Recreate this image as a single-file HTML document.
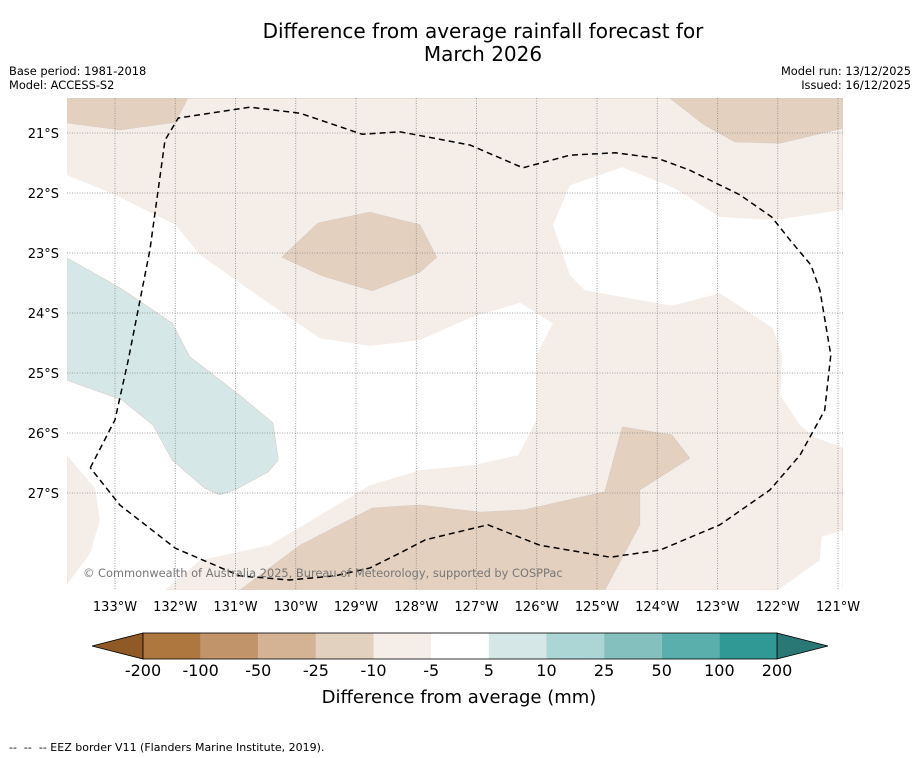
<!DOCTYPE html>
<html><head><meta charset="utf-8"><style>
body{margin:0;background:#fff;font-family:"DejaVu Sans","Liberation Sans",sans-serif;}
svg{display:block}
</style></head><body>
<svg id="chart" width="919" height="758">
<rect width="919" height="758" fill="#fff"/>
<text x="483" y="38" font-size="20" text-anchor="middle">Difference from average rainfall forecast for</text>
<text x="483" y="61" font-size="20" text-anchor="middle">March 2026</text>
<text x="9" y="75" font-size="11.4">Base period: 1981-2018</text>
<text x="9" y="89" font-size="11.4">Model: ACCESS-S2</text>
<text x="911" y="75" font-size="11.4" text-anchor="end">Model run: 13/12/2025</text>
<text x="911" y="89" font-size="11.4" text-anchor="end">Issued: 16/12/2025</text>
<defs><clipPath id="mapclip"><rect x="67" y="98" width="776" height="492"/></clipPath></defs>
<g id="map" clip-path="url(#mapclip)"></g>
<g id="axes"></g>
<g id="cbar"></g>
<text x="459" y="703" font-size="18" text-anchor="middle">Difference from average (mm)</text>
<text x="9" y="751" font-size="11" style="white-space:pre">--  --  -- EEZ border V11 (Flanders Marine Institute, 2019).</text>
</svg>
<script>
const lonTicks=[133,132,131,130,129,128,127,126,125,124,123,122,121];
const latTicks=[21,22,23,24,25,26,27];
const bgLevel=[[133.8,20.42],[120.92,20.42],[120.92,28.62],[133.8,28.62]];
const whiteA=[[133.8,21.7],[133,22.03],[132,22.53],[131.59,23.03],[130.76,23.62],[129.6,24.42],[128.77,24.55],[127.94,24.45],[127.11,24.08],[126.28,23.83],[125.73,24.17],[126,24.7],[126,25.78],[126.31,26.37],[127.02,26.53],[127.94,26.62],[128.77,26.87],[129.6,27.37],[130.43,27.87],[131.59,28.12],[132.17,28.62],[133.8,28.62],[133.8,28.53],[133.41,28],[133.25,27.45],[133.33,26.92],[133.8,26.37]];
const whiteB=[[125.45,21.87],[124.58,21.57],[123.71,21.92],[122.96,22.4],[122.05,22.45],[120.92,22.28],[120.92,26.25],[121.38,26.07],[121.63,25.87],[121.96,25.37],[121.93,24.7],[122.08,24.25],[122.96,23.67],[123.76,23.88],[125.2,23.62],[125.45,23.37],[125.73,22.53]];
const whiteC=[[120.92,27.62],[121.27,27.73],[121.3,28.12],[122,28.62],[120.92,28.62]];
const darkD1=[[133.8,20.42],[131.79,20.42],[132,20.82],[132.92,20.95],[133.8,20.83]];
const darkD2=[[130.23,23.07],[129.63,22.5],[128.77,22.32],[127.94,22.53],[127.66,23.07],[127.94,23.32],[128.73,23.63],[129.56,23.38]];
const darkD3=[[123.79,20.42],[120.92,20.42],[120.92,20.92],[121.96,21.17],[122.71,21.15],[123.21,20.87]];
const darkD4=[[130.93,28.62],[129.93,27.87],[128.73,27.25],[127.94,27.2],[126.94,27.32],[126.2,27.28],[124.87,26.98],[124.58,25.9],[123.76,26.03],[123.46,26.42],[124.29,26.95],[124.29,27.53],[124.87,28.62]];
const tealT=[[133.8,23.08],[132.92,23.58],[132.05,24.17],[131.76,24.73],[130.93,25.37],[130.38,25.83],[130.29,26.45],[130.46,26.65],[131.01,26.95],[131.26,27.03],[131.51,26.92],[132.05,26.45],[132.37,25.87],[132.88,25.45],[133.8,25.12]];
const eez=[[133.41,26.58],[133,25.78],[132.78,24.78],[132.42,22.95],[132.17,21.12],[131.95,20.75],[130.76,20.57],[129.93,20.67],[128.9,21.02],[128.27,20.98],[127.11,21.2],[126.23,21.58],[125.45,21.37],[124.7,21.33],[124.0,21.42],[123.46,21.62],[122.63,22.03],[122.1,22.4],[121.8,22.78],[121.45,23.2],[121.3,23.62],[121.12,24.7],[121.22,25.62],[121.63,26.37],[122.13,26.95],[122.96,27.53],[123.95,27.95],[124.78,28.07],[125.95,27.87],[126.81,27.53],[127.85,27.78],[128.27,28],[128.77,28.25],[129.35,28.38],[130.1,28.45],[130.93,28.38],[132,27.92],[132.92,27.2],[133.41,26.58]];
const cbLevels=["-200","-100","-50","-25","-10","-5","5","10","25","50","100","200"];
const cbColors=["#ae773f","#c19469","#d4b394","#e3d1bf","#f5ede8","#ffffff","#d5e8e7","#acd6d5","#84c1be","#5aaeab","#309996"];
const cbLow="#8f5a26", cbHigh="#2a7876";

const X=lon=>115+(133-lon)*60.25;
const Y=lat=>133+(lat-21)*60;
const NS="http://www.w3.org/2000/svg";
function mk(tag,attrs,parent){const e=document.createElementNS(NS,tag);for(const k in attrs)e.setAttribute(k,attrs[k]);parent.appendChild(e);return e;}
const pts=a=>a.map(p=>X(p[0]).toFixed(1)+","+Y(p[1]).toFixed(1)).join(" ");
const map=document.getElementById("map");
const fills=[[bgLevel,"#f5ede8","contour-minus10-minus5"],[whiteA,"#ffffff","contour-near-average-west"],[whiteB,"#ffffff","contour-near-average-east"],[whiteC,"#ffffff","contour-near-average-southeast"],[darkD1,"#e3d0bf","contour-minus25-northwest"],[darkD2,"#e3d0bf","contour-minus25-central"],[darkD3,"#e3d0bf","contour-minus25-northeast"],[darkD4,"#e3d0bf","contour-minus25-south"],[tealT,"#d5e8e7","contour-plus5-plus10"]];
for(const f of fills){
  const p=mk("polygon",{points:pts(f[0]),fill:f[1],stroke:f[1]==="#ffffff"?"none":"#d8ccc4","stroke-width":0.6},map);
  
  
}
for(const lon of lonTicks){
  const l=mk("line",{x1:X(lon),x2:X(lon),y1:98,y2:590,stroke:"#888","stroke-width":0.8,"stroke-dasharray":"1,1.5"},map);
  
  
}
for(const lat of latTicks){
  const l=mk("line",{x1:67,x2:843,y1:Y(lat),y2:Y(lat),stroke:"#888","stroke-width":0.8,"stroke-dasharray":"1,1.5"},map);
  
  
}
const e=mk("polyline",{points:pts(eez),fill:"none",stroke:"#000","stroke-width":1.5,"stroke-dasharray":"6,4","stroke-linejoin":"round"},map);


const cp=mk("text",{x:83,y:577,"font-size":11.4,fill:"#777"},map);
cp.textContent="© Commonwealth of Australia 2025, Bureau of Meteorology, supported by COSPPac";


const axes=document.getElementById("axes");
for(const lon of lonTicks){
  const t=mk("text",{x:X(lon),y:611,"font-size":13,"text-anchor":"middle"},axes);
  t.textContent=lon+"°W";
  
  
}
for(const lat of latTicks){
  const t=mk("text",{x:59,y:Y(lat)+5,"font-size":13,"text-anchor":"end"},axes);
  t.textContent=lat+"°S";
  
  
}
const cb=document.getElementById("cbar");
const cx0=143,cx1=777,cy0=633,cy1=659,bw=(cx1-cx0)/cbColors.length,cm=(cy0+cy1)/2;
const lt=mk("polygon",{points:`92,${cm} ${cx0},${cy0} ${cx0},${cy1}`,fill:cbLow,stroke:"#000","stroke-width":0.8},cb);


const rt=mk("polygon",{points:`828,${cm} ${cx1},${cy0} ${cx1},${cy1}`,fill:cbHigh,stroke:"#000","stroke-width":0.8},cb);


cbColors.forEach((c,i)=>{
  const r=mk("rect",{x:cx0+i*bw,y:cy0,width:bw,height:cy1-cy0,fill:c},cb);
  
  
});
const fr=mk("rect",{x:cx0,y:cy0,width:cx1-cx0,height:cy1-cy0,fill:"none",stroke:"#000","stroke-width":0.8},cb);


cbLevels.forEach((s,i)=>{
  const t=mk("text",{x:cx0+i*bw,y:676,"font-size":16,"text-anchor":"middle"},cb);
  t.textContent=s;
  
  
});
</script>
</body></html>
